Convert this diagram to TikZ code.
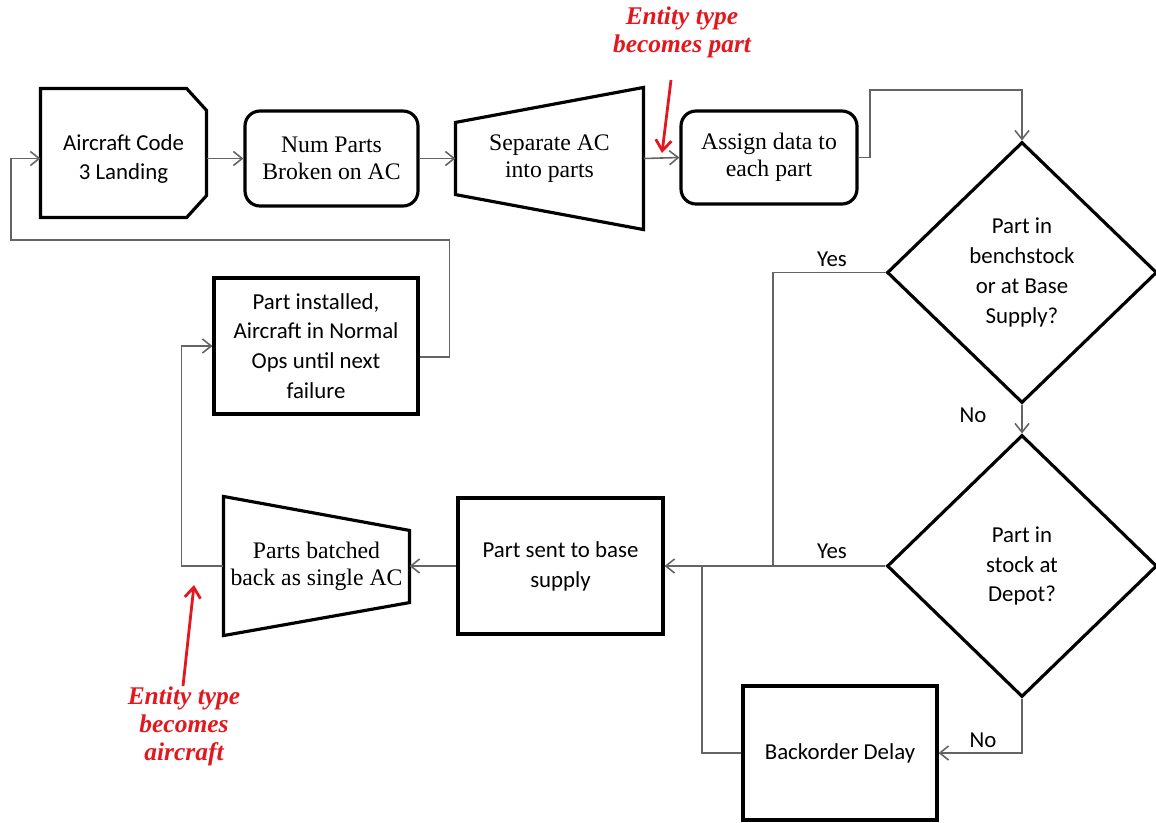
\documentclass[tikz,border=0pt]{standalone}
\usepackage{fontspec}
\setmainfont{Carlito}
\newfontfamily\boxserif{Liberation Serif}
\usepackage{tikz}
\usetikzlibrary{shapes.geometric, arrows.meta, positioning}
\definecolor{cred}{RGB}{226, 24, 30}
\definecolor{cline}{RGB}{100, 100, 100}

\tikzset{
  box/.style={draw=black, line width=1.8pt, align=center, inner sep=0pt,
    font=\fontsize{13}{17}\selectfont},
  roundbox/.style={box, rounded corners=0.3cm, font=\boxserif\fontsize{13.5}{15.5}\selectfont},
  shapebox/.style={box, draw=none},
  decision/.style={box, diamond, minimum width=5.4cm, minimum height=5.22cm},
  outline/.style={draw=black, line width=1.8pt},
  conn/.style={draw=cline, line width=0.9pt, -{Straight Barb[length=5pt, width=8pt]}},
  joinline/.style={draw=cline, line width=0.9pt},
  lbl/.style={font=\fontsize{13}{17}\selectfont},
  note/.style={text=cred, align=center, font=\boxserif\fontsize{14.5}{16}\selectfont\bfseries\itshape},
  redarrow/.style={draw=cred, line width=1.6pt, -{Straight Barb[length=6pt, width=9pt]}}
}

\begin{document}
\begin{tikzpicture}[x=0.02cm, y=-0.02cm]
  \useasboundingbox (0,0) rectangle (1156,822);

  \node[shapebox, minimum width=3.26cm, minimum height=2.52cm] (code3) at (123.5,159) {Aircraft Code\\3 Landing};
  \draw[outline] ([shift={(0,-6)}]code3.north west) -- ([shift={(-20,-6)}]code3.north east) -- ([shift={(0,16)}]code3.north east)
    -- ([shift={(0,-28)}]code3.south east) -- ([shift={(-20,-6)}]code3.south east) -- ([shift={(0,-6)}]code3.south west) -- cycle;
  \node[roundbox, minimum width=3.46cm, minimum height=1.9cm] (numparts) at (331.5,158.5) {Num Parts\\Broken on AC};
  \node[shapebox, font=\boxserif\fontsize{13.5}{15.5}\selectfont, minimum width=3.7cm, minimum height=2.78cm] (separate) at (549.5,158.5) {Separate AC\\into parts};
  \draw[outline] ([shift={(0,35)}]separate.north west) -- (separate.north east) -- (separate.south east)
    -- ([shift={(0,-35)}]separate.south west) -- cycle;
  \node[roundbox, minimum width=3.52cm, minimum height=1.86cm] (assign) at (769,157.5) {Assign data to\\each part};

  \node[decision] (bench) at (1022,272.5) {Part in\\benchstock\\or at Base\\Supply?};
  \node[decision, minimum height=5.24cm] (depot) at (1022,566) {Part in\\stock at\\Depot?};

  \node[box, minimum width=3.88cm, minimum height=2.68cm] (backorder) at (840,753) {Backorder Delay};
  \node[box, minimum width=4.1cm, minimum height=2.72cm] (sent) at (560.5,566) {Part sent to base\\supply};
  \node[shapebox, font=\boxserif\fontsize{13.5}{15.5}\selectfont, minimum width=3.66cm, minimum height=2.72cm] (batched) at (316.5,566) {Parts batched\\back as single AC};
  \draw[outline] (batched.north west) -- ([shift={(0,34)}]batched.north east) -- ([shift={(0,-33)}]batched.south east)
    -- (batched.south west) -- cycle;
  \node[box, minimum width=4.08cm, minimum height=2.72cm] (installed) at (316,346) {Part installed,\\Aircraft in Normal\\Ops until next\\failure};

  \coordinate (loopt) at (870,90);
  \coordinate (loopc) at (11,240);
  \coordinate (jyes) at (773,566);
  \coordinate (jback) at (702,566);

  \draw[conn] (code3.east |- numparts.west) -- (numparts.west);
  \draw[conn] (numparts.east) -- (separate.west);
  \draw[conn] (separate.east) -- (assign.west);
  \draw[conn] (assign.east) -| (loopt) -| (bench.north);
  \draw[joinline] (bench.west) -| (jyes);
  \draw[conn] (bench.south) -- (depot.north);
  \draw[conn] (depot.west) -- (sent.east);
  \draw[conn] (depot.south) |- (backorder.east);
  \draw[joinline] (backorder.west) -| (jback);
  \draw[conn] (sent.west) -- (batched.east);
  \draw[conn] (batched.west) -- ++(-42,0) |- (installed.west);
  \draw[conn] ([yshift=-0.22cm]installed.east) -- ++(30,0) |- (loopc) |- (code3.west |- numparts.west);

  \node[lbl] (yes1) at (832,259) {Yes};
  \node[lbl] (no1) at (973,415) {No};
  \node[lbl] (yes2) at (832,551) {Yes};
  \node[lbl] (no2) at (983,740) {No};

  \node[note] (partnote) at (682,32) {Entity type\\becomes part};
  \node[note] (acnote) at (184,726) {Entity type\\becomes\\aircraft};
  \coordinate (parttail) at (671,80);
  \coordinate (parthead) at (662,153);
  \coordinate (actail) at (183,686);
  \coordinate (achead) at (194,585);
  \draw[redarrow] (parttail) -- (parthead);
  \draw[redarrow] (actail) -- (achead);
\end{tikzpicture}
\end{document}
